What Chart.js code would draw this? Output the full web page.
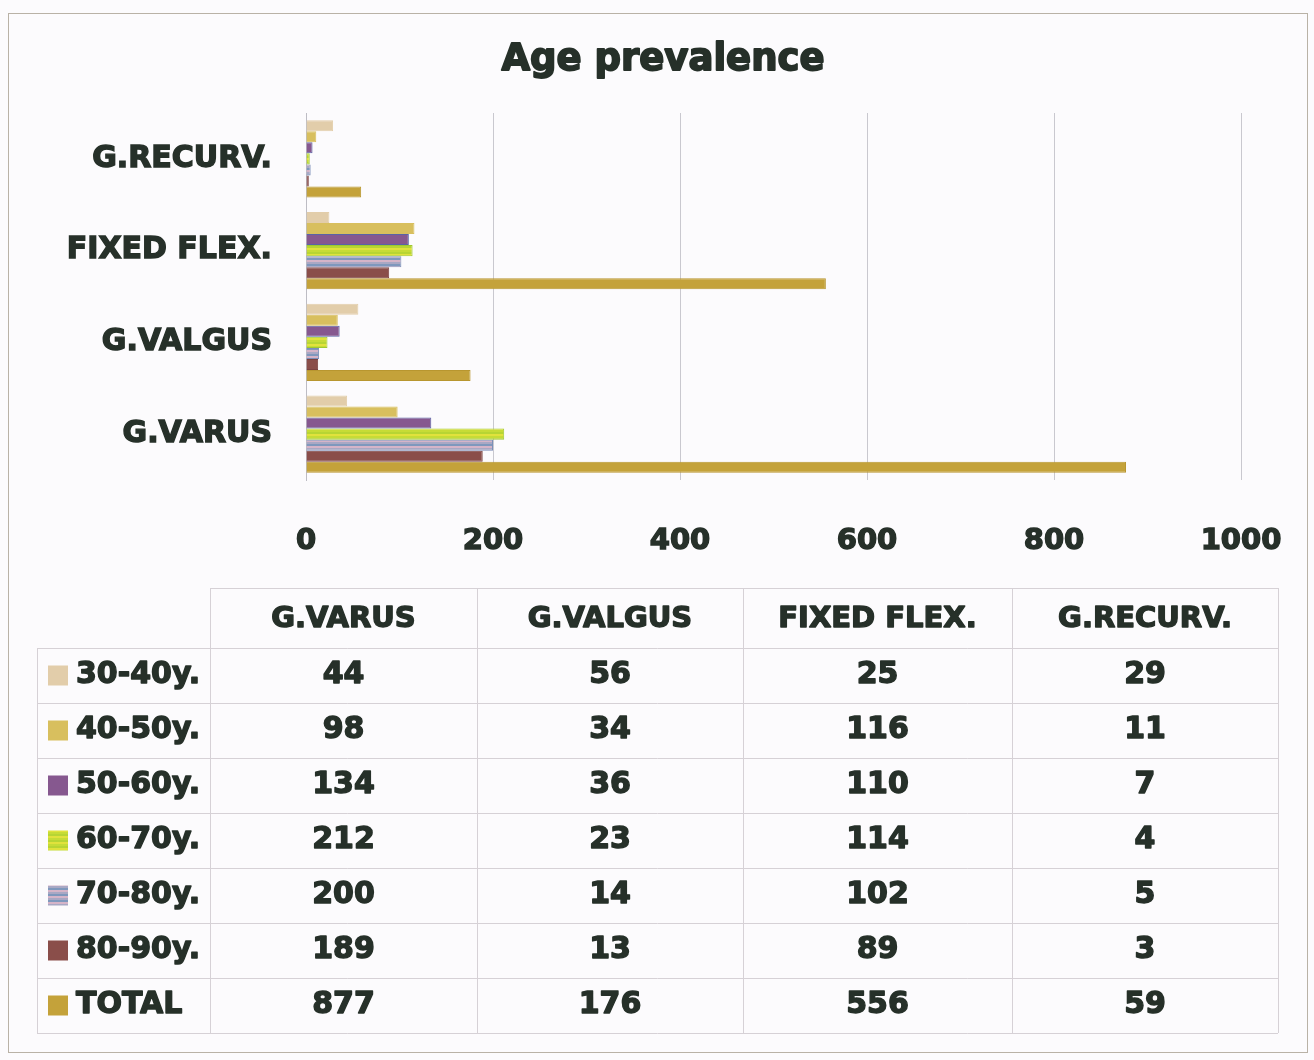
<!DOCTYPE html>
<html><head><meta charset="utf-8">
<script src="https://cdn.jsdelivr.net/npm/chart.js@4/dist/chart.umd.min.js"></script>
<style>html,body{margin:0;padding:0;background:#fcfbfd;}#wrap{width:1314px;height:1060px;position:relative;}</style>
</head><body><div id="wrap"><canvas id="c" width="1314" height="1060"></canvas></div>
<script>
// ---- data ----
const categories = ['G.VARUS', 'G.VALGUS', 'FIXED FLEX.', 'G.RECURV.'];
const ageGroups = ['30-40y.', '40-50y.', '50-60y.', '60-70y.', '70-80y.', '80-90y.', 'TOTAL'];
const age30_40 = [44, 56, 25, 29];
const age40_50 = [98, 34, 116, 11];
const age50_60 = [134, 36, 110, 7];
const age60_70 = [212, 23, 114, 4];
const age70_80 = [200, 14, 102, 5];
const age80_90 = [189, 13, 89, 3];
const totals = [877, 176, 556, 59];
const xTicks = [0, 200, 400, 600, 800, 1000];
const chartTitle = 'Age prevalence';

// ---- styles ----
const TEXT = '#263029';
const FONT = 'DejaVu Sans';
function stripes(colors, h) {
  const c = document.createElement('canvas');
  c.width = 4; c.height = colors.length * h;
  const x = c.getContext('2d');
  colors.forEach((col, i) => { x.fillStyle = col; x.fillRect(0, i * h, 4, h); });
  return document.getElementById('c').getContext('2d').createPattern(c, 'repeat');
}
const fills = [
  '#e2cdaa',
  '#d8bf5e',
  '#86588f',
  stripes(['#b7d534', '#e1e23c', '#c6dc36'], 2),
  stripes(['#7f98bd', '#d5b4c8', '#a9a8c4'], 2),
  '#8a4e4a',
  '#c4a23a'
];
const borders = ['#e2cdaa', '#d8bf5e', '#5a63a6', '#9fc92e', '#7c8fb8', '#7a4240', '#b8962f'];
const series = [age30_40, age40_50, age50_60, age60_70, age70_80, age80_90, totals];

const layoutTable = {
  cols: [37, 210, 477, 743, 1012, 1278],
  headTop: 588,
  rows: [648, 703, 758, 813, 868, 923, 978, 1033]
};

function heavyText(ctx, txt, x, y, w) {
  ctx.lineWidth = w;
  ctx.lineJoin = 'round';
  ctx.strokeStyle = ctx.fillStyle;
  ctx.fillText(txt, x, y);
  ctx.strokeText(txt, x, y);
}

const bgPlugin = {
  id: 'bg',
  beforeDraw(chart) {
    const ctx = chart.ctx;
    ctx.save();
    ctx.fillStyle = '#fcfbfd';
    ctx.fillRect(0, 0, chart.width, chart.height);
    ctx.strokeStyle = '#b9b2a6';
    ctx.lineWidth = 1;
    ctx.strokeRect(8.5, 13.5, 1299, 1039);
    ctx.restore();
  }
};

const titlePlugin = {
  id: 'bigTitle',
  afterDraw(chart) {
    const ctx = chart.ctx;
    ctx.save();
    ctx.fillStyle = TEXT;
    ctx.textAlign = 'center';
    ctx.textBaseline = 'middle';
    ctx.font = 'bold 37px "' + FONT + '"';
    heavyText(ctx, chartTitle, 663, 60, 1.8);
    ctx.restore();
  }
};

const tablePlugin = {
  id: 'dataTable',
  afterDraw(chart) {
    const ctx = chart.ctx, T = layoutTable;
    ctx.save();
    ctx.strokeStyle = '#d6d1d6';
    ctx.lineWidth = 1;
    const last = T.rows[T.rows.length - 1];
    ctx.beginPath();
    ctx.moveTo(T.cols[1], T.headTop + 0.5); ctx.lineTo(T.cols[5], T.headTop + 0.5);
    T.rows.forEach(y => { ctx.moveTo(T.cols[0], y + 0.5); ctx.lineTo(T.cols[5], y + 0.5); });
    ctx.moveTo(T.cols[0] + 0.5, T.rows[0]); ctx.lineTo(T.cols[0] + 0.5, last);
    for (let i = 1; i < T.cols.length; i++) {
      ctx.moveTo(T.cols[i] + 0.5, T.headTop); ctx.lineTo(T.cols[i] + 0.5, last);
    }
    ctx.stroke();

    ctx.fillStyle = TEXT;
    ctx.textBaseline = 'middle';
    ctx.textAlign = 'center';
    ctx.font = 'bold 29px "' + FONT + '"';
    categories.forEach((c, j) => {
      heavyText(ctx, c, (T.cols[j + 1] + T.cols[j + 2]) / 2, (T.headTop + T.rows[0]) / 2 + 1, 1.4);
    });
    ctx.font = 'bold 30px "' + FONT + '"';
    series.forEach((s, i) => {
      const yc = (T.rows[i] + T.rows[i + 1]) / 2;
      s.forEach((v, j) => {
        heavyText(ctx, String(v), (T.cols[j + 1] + T.cols[j + 2]) / 2, yc, 1.4);
      });
      const ds = chart.data.datasets[i];
      ctx.fillStyle = ds.backgroundColor;
      ctx.fillRect(48, yc - 10, 20, 20);
      ctx.fillStyle = TEXT;
      ctx.textAlign = 'left';
      heavyText(ctx, ageGroups[i], 76, yc, 1.4);
      ctx.textAlign = 'center';
    });
    ctx.restore();
  }
};

new Chart(document.getElementById('c'), {
  type: 'bar',
  data: {
    labels: categories,
    datasets: series.map((s, i) => ({
      label: ageGroups[i],
      data: s,
      backgroundColor: fills[i],
      borderColor: borders[i],
      borderWidth: 1,
      categoryPercentage: 0.84,
      barPercentage: 1
    }))
  },
  options: {
    indexAxis: 'y',
    responsive: false,
    animation: false,
    devicePixelRatio: 1,
    layout: { padding: { left: 0, right: 73, top: 113, bottom: 0 } },
    plugins: {
      legend: { display: false },
      tooltip: { enabled: false },
      title: { display: false }
    },
    scales: {
      x: {
        min: 0, max: 1000,
        afterBuildTicks: s => { s.ticks = xTicks.map(v => ({ value: v })); },
        ticks: {
          color: TEXT, font: { family: FONT, size: 29, weight: 'bold' }, padding: 44,
          textStrokeColor: TEXT, textStrokeWidth: 1.4,
          callback: v => String(v)
        },
        grid: { color: '#c9c8cf', drawTicks: false },
        border: { display: false },
        afterFit: s => { s.height = 580; s.paddingLeft = 0; s.paddingRight = 0; }
      },
      y: {
        reverse: true,
        ticks: {
          color: TEXT, font: { family: FONT, size: 30, weight: 'bold' }, padding: 34,
          textStrokeColor: TEXT, textStrokeWidth: 1.4
        },
        grid: { display: false, drawTicks: false },
        border: { display: true, color: '#bdbcc4' },
        afterFit: s => { s.width = 306; }
      }
    }
  },
  plugins: [bgPlugin, titlePlugin, tablePlugin]
});
</script>
</body></html>
